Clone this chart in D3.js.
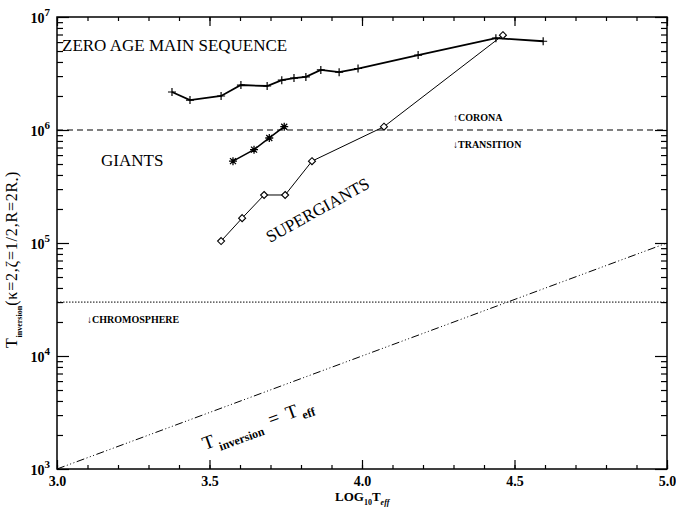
<!DOCTYPE html>
<html>
<head>
<meta charset="utf-8">
<script src="https://cdn.jsdelivr.net/npm/d3@7"></script>
<style>
  body { margin: 0; background: #fff; }
  svg text { font-family: "Liberation Serif", "DejaVu Serif", serif !important; fill: #000; }
</style>
</head>
<body>
<div id="chart"></div>
<script>
// ZAMS (+), giants (*), supergiants (diamond)
const zamsLogT = [3.377, 3.436, 3.538, 3.603, 3.689, 3.737, 3.777, 3.816, 3.865, 3.925, 3.987, 4.184, 4.439, 4.594];
const zamsT = [2.17e6, 1.84e6, 2.0e6, 2.5e6, 2.45e6, 2.76e6, 2.88e6, 2.95e6, 3.4e6, 3.25e6, 3.5e6, 4.6e6, 6.5e6, 6.1e6];
const giantsLogT = [3.577, 3.646, 3.696, 3.745];
const giantsT = [5.3e5, 6.7e5, 8.5e5, 1.07e6];
const superLogT = [3.538, 3.607, 3.679, 3.748, 3.836, 4.072, 4.462];
const superT = [1.04e5, 1.66e5, 2.66e5, 2.66e5, 5.3e5, 1.07e6, 6.9e6];

const coronaLevel = 1e6;
const chromoLevel = 3e4;
const equalityLogT = [3.0, 5.0];

const xTickValues = [3.0, 3.5, 4.0, 4.5, 5.0];
const xTickLabels = ["3.0", "3.5", "4.0", "4.5", "5.0"];
const yTickValues = [1e3, 1e4, 1e5, 1e6, 1e7];
const yTickExps = ["3", "4", "5", "6", "7"];

const wSvg = 676;
const hSvg = 512;
const margin = {left: 57, right: 9, top: 17, bottom: 43};
const wViz = wSvg - margin.left - margin.right;
const hViz = hSvg - margin.top - margin.bottom;

let xScale = d3.scaleLinear([3.0, 5.0], [margin.left, margin.left + wViz]);
let yScale = d3.scaleLog([1e3, 1e7], [margin.top + hViz, margin.top]);

let svg = d3.select("#chart")
    .append("svg")
    .attr("width", wSvg)
    .attr("height", hSvg)
    .attr("font-family", "'Liberation Serif', 'DejaVu Serif', serif");

// minor tick positions
let xMinor = d3.range(30, 51).map(v => v / 10);
let yMinor = [];
for (let e = 3; e < 7; e++) {
    for (let m = 2; m <= 9; m++) yMinor.push(m * Math.pow(10, e));
}

function drawAxis(axis, tx, ty) {
    let g = svg.append("g")
        .attr("transform", `translate(${tx}, ${ty})`)
        .call(axis);
    g.attr("font-family", null);
    g.select(".domain").remove();
    g.selectAll(".tick line").attr("stroke", "#000").attr("stroke-width", 1.2);
    return g;
}

let yBottom = margin.top + hViz;
let xRight = margin.left + wViz;

drawAxis(d3.axisBottom(xScale).tickValues(xMinor).tickSize(-4).tickFormat(""), 0, yBottom);
drawAxis(d3.axisTop(xScale).tickValues(xMinor).tickSize(-4).tickFormat(""), 0, margin.top);
drawAxis(d3.axisTop(xScale).tickValues(xTickValues).tickSize(-9).tickFormat(""), 0, margin.top);
let xAxisG = drawAxis(d3.axisBottom(xScale).tickValues(xTickValues).tickSize(-9).tickPadding(7)
    .tickFormat((d, i) => xTickLabels[i]), 0, yBottom);
xAxisG.selectAll("text")
    .style("font-size", "14px")
    .style("font-weight", "bold")
    .attr("fill", "#000");

drawAxis(d3.axisLeft(yScale).tickValues(yMinor).tickSize(-6).tickFormat(""), margin.left, 0);
drawAxis(d3.axisRight(yScale).tickValues(yMinor).tickSize(-6).tickFormat(""), xRight, 0);
drawAxis(d3.axisRight(yScale).tickValues(yTickValues).tickSize(-12).tickFormat(""), xRight, 0);
let yAxisG = drawAxis(d3.axisLeft(yScale).tickValues(yTickValues).tickSize(-12).tickFormat(""), margin.left, 0);
yAxisG.selectAll(".tick").each(function (d, i) {
    let t = d3.select(this).append("text")
        .attr("x", -7)
        .attr("y", 5)
        .attr("text-anchor", "end")
        .style("font-size", "14px")
        .style("font-weight", "bold")
        .attr("fill", "#000");
    t.append("tspan").text("10");
    t.append("tspan").attr("dy", -7).style("font-size", "11px").text(yTickExps[i]);
});

// frame
svg.append("rect")
    .attr("x", margin.left)
    .attr("y", margin.top)
    .attr("width", wViz)
    .attr("height", hViz)
    .attr("fill", "none")
    .attr("stroke", "#000")
    .attr("stroke-width", 1.5);

// reference lines
svg.append("line")
    .attr("x1", xScale(3.0)).attr("x2", xScale(5.0))
    .attr("y1", yScale(coronaLevel)).attr("y2", yScale(coronaLevel))
    .attr("stroke", "#000").attr("stroke-width", 1.2)
    .attr("stroke-dasharray", "6,4");

svg.append("line")
    .attr("x1", xScale(3.0)).attr("x2", xScale(5.0))
    .attr("y1", yScale(chromoLevel)).attr("y2", yScale(chromoLevel))
    .attr("stroke", "#000").attr("stroke-width", 1)
    .attr("stroke-dasharray", "1.5,1.5");

svg.append("line")
    .attr("x1", xScale(equalityLogT[0])).attr("x2", xScale(equalityLogT[1]))
    .attr("y1", yScale(Math.pow(10, equalityLogT[0]))).attr("y2", yScale(Math.pow(10, equalityLogT[1])))
    .attr("stroke", "#000").attr("stroke-width", 1)
    .attr("stroke-dasharray", "8,2.5,1,2.5,1,2.5,1,2.5");

// series
let line = d3.line().x(d => xScale(d[0])).y(d => yScale(d[1]));

let zams = zamsLogT.map((v, i) => [v, zamsT[i]]);
let giants = giantsLogT.map((v, i) => [v, giantsT[i]]);
let supers = superLogT.map((v, i) => [v, superT[i]]);

svg.append("path").datum(zams).attr("d", line)
    .attr("fill", "none").attr("stroke", "#000").attr("stroke-width", 1.8);
svg.append("path").datum(giants).attr("d", line)
    .attr("fill", "none").attr("stroke", "#000").attr("stroke-width", 1.6);
svg.append("path").datum(supers).attr("d", line)
    .attr("fill", "none").attr("stroke", "#000").attr("stroke-width", 1);

svg.append("g").selectAll("path")
    .data(zams)
    .enter()
    .append("path")
    .attr("transform", d => `translate(${xScale(d[0])}, ${yScale(d[1])})`)
    .attr("d", "M-4,0H4M0,-4V4")
    .attr("stroke", "#000").attr("stroke-width", 1.2);

svg.append("g").selectAll("path")
    .data(giants)
    .enter()
    .append("path")
    .attr("transform", d => `translate(${xScale(d[0])}, ${yScale(d[1])})`)
    .attr("d", "M-4,0H4M0,-4V4M-3,-3L3,3M-3,3L3,-3")
    .attr("stroke", "#000").attr("stroke-width", 1.3);

svg.append("g").selectAll("path")
    .data(supers)
    .enter()
    .append("path")
    .attr("transform", d => `translate(${xScale(d[0])}, ${yScale(d[1])})`)
    .attr("d", "M0,-3.5L3.5,0L0,3.5L-3.5,0Z")
    .attr("fill", "#fff")
    .attr("stroke", "#000").attr("stroke-width", 1.1);

// region labels
svg.append("text")
    .attr("x", 62).attr("y", 51)
    .style("font-size", "17px")
    .text("ZERO AGE MAIN SEQUENCE");

svg.append("text")
    .attr("x", 101).attr("y", 166)
    .style("font-size", "17px")
    .text("GIANTS");

svg.append("text")
    .attr("transform", "translate(270, 243) rotate(-29)")
    .style("font-size", "17px")
    .text("SUPERGIANTS");

svg.append("text")
    .attr("x", 453).attr("y", 121)
    .style("font-size", "10px").style("font-weight", "bold")
    .text("\u2191CORONA");

svg.append("text")
    .attr("x", 453).attr("y", 148)
    .style("font-size", "10px").style("font-weight", "bold")
    .text("\u2193TRANSITION");

svg.append("text")
    .attr("x", 87).attr("y", 323)
    .style("font-size", "10px").style("font-weight", "bold")
    .text("\u2193CHROMOSPHERE");

let eq = svg.append("text")
    .attr("transform", "translate(205, 450) rotate(-20)")
    .style("font-size", "19px");
eq.append("tspan").text("T");
eq.append("tspan").attr("dx", 3).attr("dy", 6).style("font-size", "12px").style("font-weight", "bold").text("inversion");
eq.append("tspan").attr("dx", 8).attr("dy", -6).text("=");
eq.append("tspan").attr("dx", 8).text("T");
eq.append("tspan").attr("dx", 3).attr("dy", 5).style("font-size", "12px").style("font-weight", "bold").text("eff");

// axis titles
let xt = svg.append("text")
    .attr("x", 335).attr("y", 501)
    .style("font-size", "13px").style("font-weight", "bold");
xt.append("tspan").text("LOG");
xt.append("tspan").attr("dy", 4).style("font-size", "8px").text("10");
xt.append("tspan").attr("dy", -4).text("T");
xt.append("tspan").attr("dy", 4).style("font-size", "8px").style("font-style", "italic").text("eff");

let yt = svg.append("text")
    .attr("transform", "translate(17, 348) rotate(-90)")
    .style("font-size", "16px")
    .style("letter-spacing", "0.8px");
yt.append("tspan").text("T");
yt.append("tspan").attr("dy", 5).style("font-size", "8px").style("font-weight", "bold").style("letter-spacing", "0px").text("inversion");
yt.append("tspan").attr("dy", -5).text("(\u03ba=2,\u03b6=1/2,R=2R");
yt.append("tspan").attr("dy", 3).style("font-size", "9px").text("\u2022");
yt.append("tspan").attr("dy", -3).text(")");
</script>
</body>
</html>
